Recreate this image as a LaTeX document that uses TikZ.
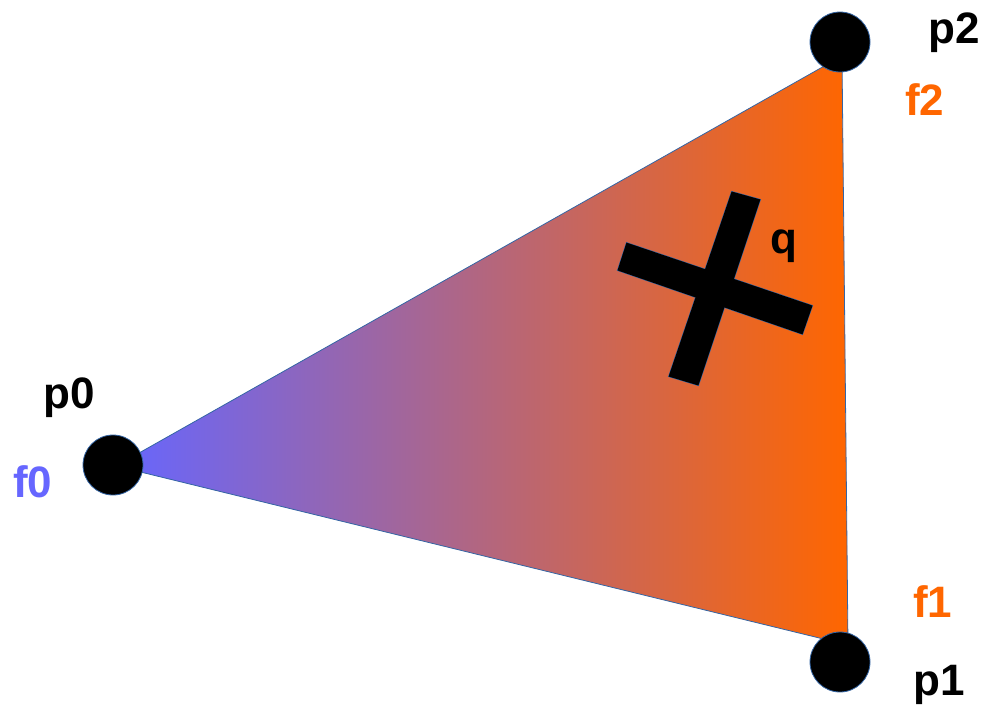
\documentclass[tikz,border=0pt]{standalone}
\usepackage{fontspec}
\setmainfont{Liberation Sans}
\usepackage{tikz}
\usetikzlibrary{positioning}
\definecolor{fblue}{HTML}{6666FF}
\definecolor{forange}{HTML}{FF6600}
\definecolor{edgeblue}{HTML}{3465A4}

\begin{document}
\begin{tikzpicture}[x=1pt, y=-1pt,
        font=\fontsize{44}{52}\selectfont\bfseries,
        vertex/.style={circle, fill=black, draw=edgeblue, line width=0.8pt,
            minimum size=60pt, inner sep=0pt},
        lbl/.style={anchor=base west, inner sep=0pt},
        bar/.style={draw=edgeblue, line width=1pt}]
        \useasboundingbox (0,0) rectangle (984,704);
        % corners of the shaded face
        \coordinate (t0) at (116,466);
        \coordinate (t1) at (848,645);
        \coordinate (t2) at (842,56);
        \shade[left color=fblue, right color=forange, draw=edgeblue, line width=0.8pt]
            (t0) -- (t1) -- (t2) -- cycle;
        % the query point: outlines first, then one black fill over both
        \coordinate (qa1) at (617.5,270.4);
        \coordinate (qa2) at (626.5,242.6);
        \coordinate (qa3) at (812.5,305.6);
        \coordinate (qa4) at (802.5,334.4);
        \coordinate (qb1) at (731.6,191.5);
        \coordinate (qb2) at (760.4,199.5);
        \coordinate (qb3) at (698.4,385.5);
        \coordinate (qb4) at (668.6,376.5);
        \draw[bar] (qa1) -- (qa2) -- (qa3) -- (qa4) -- cycle;
        \draw[bar] (qb1) -- (qb2) -- (qb3) -- (qb4) -- cycle;
        \fill[black] (qa1) -- (qa2) -- (qa3) -- (qa4) -- cycle;
        \fill[black] (qb1) -- (qb2) -- (qb3) -- (qb4) -- cycle;
        \node[lbl] (q) at (770,253) {q};
        % vertices
        \node[vertex] (p0) at (113,465) {};
        \node[vertex] (p1) at (840,662) {};
        \node[vertex] (p2) at (840,42) {};
        \node[lbl] (p0lbl) at (43,408) {p0};
        \node[lbl, text=fblue] (f0) at (13,497) {f0};
        \node[lbl] (p1lbl) at (913,695) {p1};
        \node[lbl, text=forange] (f1) at (913,617) {f1};
        \node[lbl] (p2lbl) at (928,43) {p2};
        \node[lbl, text=forange] (f2) at (905,115) {f2};
    \end{tikzpicture}
\end{document}
